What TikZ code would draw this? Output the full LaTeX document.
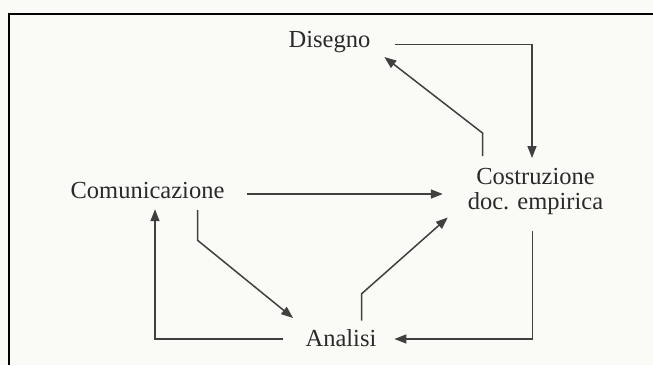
\documentclass[tikz,border=0pt]{standalone}
\usepackage{fontspec}
\setmainfont{Liberation Serif}
\usetikzlibrary{arrows.meta}
\definecolor{ink}{HTML}{404040}
\definecolor{txt}{HTML}{2A2A2A}
\definecolor{paper}{HTML}{FAFAF7}
\tikzset{
  lbl/.style={inner sep=0pt, outer sep=0pt, text=txt, font=\fontsize{24.5}{25}\selectfont, anchor=base},
  arr/.style={draw=ink, line width=1.5pt, -{Triangle[length=12pt,width=9pt]}},
}
\begin{document}
\begin{tikzpicture}[x=1pt,y=-1pt]
\fill[paper] (0,0) rectangle (653,365);
\useasboundingbox (0,0) rectangle (653,365);
\draw[black, line width=2.2pt] (9,365) -- (9,14) -- (653,14);

\node[lbl] (dis) at (329.5,47.5) {Disegno};
\node[lbl] (com) at (147.5,198) {Comunicazione};
\node[lbl, align=center, anchor=north] (cos) at (535.5,168) {Costruzione\\doc. empirica};
\node[lbl] (ana) at (341,346.7) {Analisi};

% Disegno -> Costruzione
\path ([shift={(25pt,3.2pt)}]dis.base east) coordinate (d1);
\path ([xshift=-3.5pt,yshift=10pt]cos.north) coordinate (c1);
\draw[arr] (d1) -| (c1);

% Costruzione -> Disegno
\path ([shift={(-53pt,12pt)}]cos.north) coordinate (c2);
\path ([shift={(14pt,-9.5pt)}]dis.base east) coordinate (d2);
\draw[arr] (c2) -- ++(0,-23) -- (d2);

% Comunicazione -> Costruzione
\path ([shift={(23pt,4pt)}]com.base east) coordinate (m1);
\path ([xshift=-25pt]cos.west) coordinate (c3);
\draw[arr] (m1) -- (m1 -| c3);

% Costruzione -> Analisi
\path ([shift={(-3pt,-17pt)}]cos.south) coordinate (c4);
\path ([shift={(18pt,7.7pt)}]ana.base east) coordinate (a1);
\draw[arr] (c4) |- (a1);

% Analisi -> Costruzione
\path ([shift={(20.7pt,9pt)}]ana.north) coordinate (a2);
\path ([shift={(-20pt,-3pt)}]cos.south west) coordinate (c5);
\draw[arr] (a2) -- ++(0,-27) -- (c5);

% Comunicazione -> Analisi
\path ([shift={(50pt,-12pt)}]com.south) coordinate (m2);
\path ([shift={(-12.5pt,28.7pt)}]ana.base west) coordinate (a3);
\draw[arr] (m2) -- ++(0,30) -- (a3);

% Analisi -> Comunicazione
\path ([shift={(-22.5pt,7.7pt)}]ana.base west) coordinate (a4);
\path ([shift={(7.5pt,-11pt)}]com.south) coordinate (m3);
\draw[arr] (a4) -| (m3);
\end{tikzpicture}
\end{document}
